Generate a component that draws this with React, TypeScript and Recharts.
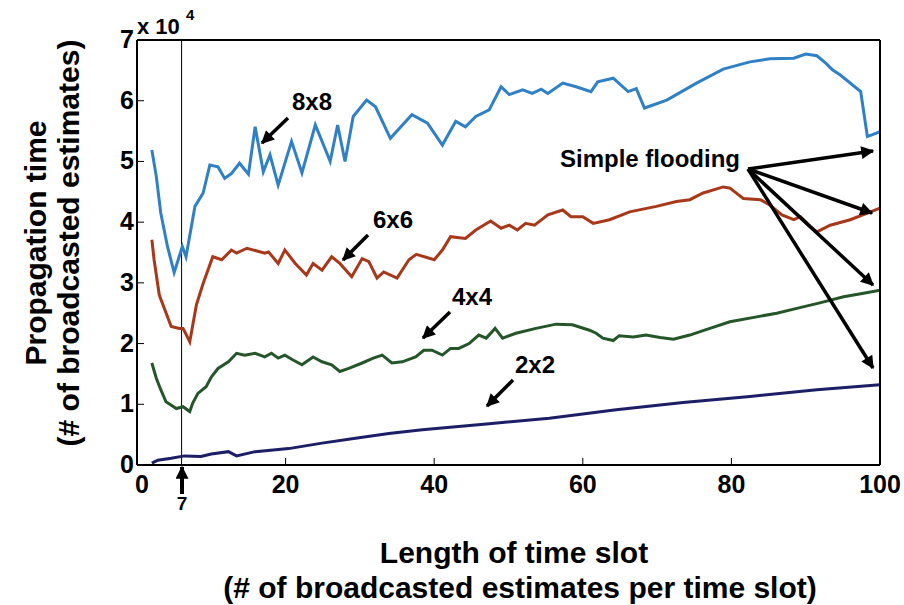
import { LineChart, Line, XAxis, YAxis, ReferenceLine } from "recharts";

const FONT = '"Liberation Sans", Arial, Helvetica, sans-serif';

// slot length (x) and propagation time in units of 1e4 (y)
const slots8 = [2, 2.6, 3.2, 4.1, 5.0, 5.6, 6.1, 6.6, 7.8, 8.9, 9.8, 10.9, 11.8, 12.7, 13.8, 15.0, 15.9, 17.0, 17.9, 19.0, 20.8, 22.2, 24.0, 26.0, 27.0, 28.0, 29.1, 30.9, 32.1, 34.1, 37.0, 39.1, 41.1, 42.9, 44.2, 45.6, 47.4, 49.0, 50.1, 51.9, 53.2, 54.4, 55.3, 57.3, 59.1, 61.1, 62.0, 64.1, 66.1, 67.2, 68.3, 71.3, 75.3, 78.9, 82.5, 85.2, 88.4, 90.0, 91.5, 92.7, 93.6, 94.7, 97.4, 98.3, 99.0, 100];
const time8 = [5.19, 4.75, 4.15, 3.6, 3.17, 3.4, 3.6, 3.43, 4.26, 4.48, 4.94, 4.91, 4.72, 4.8, 4.97, 4.79, 5.57, 4.83, 5.11, 4.61, 5.33, 4.81, 5.6, 5.0, 5.6, 5.0, 5.74, 6.01, 5.9, 5.38, 5.77, 5.63, 5.27, 5.66, 5.57, 5.74, 5.85, 6.23, 6.1, 6.18, 6.12, 6.19, 6.12, 6.29, 6.23, 6.15, 6.31, 6.37, 6.15, 6.2, 5.88, 6.01, 6.29, 6.52, 6.64, 6.69, 6.7, 6.77, 6.74, 6.62, 6.51, 6.42, 6.15, 5.41, 5.44, 5.49];

const slots6 = [2.0, 2.3, 3.0, 4.6, 5.7, 6.2, 7.1, 8.0, 8.9, 10.2, 11.4, 12.7, 13.4, 14.8, 17.2, 17.7, 19.0, 19.9, 21.3, 22.8, 23.7, 24.9, 26.2, 27.3, 28.9, 30.3, 31.2, 32.3, 33.2, 35.0, 36.6, 37.6, 40.0, 41.1, 42.2, 44.2, 45.6, 47.6, 49.0, 50.1, 51.2, 52.3, 53.5, 55.3, 57.3, 58.4, 60.0, 61.4, 63.6, 66.3, 69.9, 72.6, 74.4, 76.2, 78.9, 79.8, 81.6, 83.9, 85.2, 86.8, 88.4, 89.3, 90.6, 91.5, 93.3, 96.0, 98.3, 100];
const time6 = [3.71, 3.38, 2.8, 2.28, 2.25, 2.25, 2.03, 2.64, 2.99, 3.43, 3.38, 3.54, 3.49, 3.57, 3.49, 3.51, 3.32, 3.54, 3.32, 3.13, 3.32, 3.21, 3.43, 3.32, 3.1, 3.4, 3.35, 3.08, 3.18, 3.08, 3.38, 3.47, 3.38, 3.54, 3.76, 3.73, 3.87, 4.02, 3.9, 3.95, 3.87, 3.98, 3.95, 4.12, 4.2, 4.09, 4.09, 3.98, 4.04, 4.17, 4.26, 4.34, 4.37, 4.48, 4.58, 4.56, 4.39, 4.37, 4.28, 4.12, 4.04, 4.09, 3.93, 3.84, 3.95, 4.04, 4.15, 4.23];

const slots4 = [2.0, 2.6, 3.2, 3.9, 5.3, 6.2, 7.1, 7.5, 8.2, 9.3, 10.0, 10.9, 12.3, 13.4, 14.5, 15.9, 17.2, 18.1, 19.0, 19.9, 21.0, 22.2, 23.7, 24.9, 26.2, 27.3, 28.5, 30.3, 31.8, 33.0, 34.3, 35.7, 37.5, 38.6, 39.7, 41.1, 42.2, 43.3, 44.7, 46.0, 47.0, 48.2, 49.2, 51.0, 53.7, 56.4, 58.6, 60.9, 61.8, 62.7, 64.1, 64.9, 66.8, 68.5, 70.4, 72.2, 74.4, 77.1, 79.8, 83.4, 86.1, 88.8, 91.9, 95.1, 97.8, 100];
const time4 = [1.68, 1.43, 1.24, 1.04, 0.93, 0.96, 0.88, 1.02, 1.18, 1.29, 1.45, 1.59, 1.7, 1.84, 1.81, 1.84, 1.78, 1.84, 1.76, 1.81, 1.73, 1.65, 1.78, 1.7, 1.65, 1.54, 1.59, 1.68, 1.76, 1.81, 1.68, 1.7, 1.78, 1.89, 1.89, 1.81, 1.92, 1.92, 2.0, 2.14, 2.09, 2.25, 2.09, 2.17, 2.25, 2.32, 2.31, 2.22, 2.17, 2.09, 2.05, 2.13, 2.11, 2.14, 2.1, 2.07, 2.14, 2.25, 2.36, 2.44, 2.5, 2.58, 2.67, 2.77, 2.83, 2.88];

const slots2 = [2.0, 2.8, 4.6, 6.4, 8.6, 10.0, 12.3, 13.4, 15.9, 20.4, 24.9, 29.4, 33.9, 38.4, 42.9, 47.4, 55.5, 64.5, 73.5, 82.5, 91.5, 100];
const time2 = [0.03, 0.08, 0.11, 0.15, 0.14, 0.18, 0.22, 0.15, 0.22, 0.27, 0.36, 0.44, 0.52, 0.58, 0.63, 0.68, 0.77, 0.91, 1.03, 1.13, 1.24, 1.32];

const xTicks = [0, 20, 40, 60, 80, 100];
const yTicks = [0, 1, 2, 3, 4, 5, 6, 7];
const markedSlot = 6;

const zip = (xs: number[], ys: number[]) => xs.map((x, i) => ({ x, y: ys[i] }));

const series = [
  { name: "8x8", data: zip(slots8, time8), color: "#2f80c4" },
  { name: "6x6", data: zip(slots6, time6), color: "#a8381a" },
  { name: "4x4", data: zip(slots4, time4), color: "#25562a" },
  { name: "2x2", data: zip(slots2, time2), color: "#1c1f66" },
];

const label = { fontFamily: FONT, fontWeight: "bold" as const, fill: "#000" };

const BottomTick = ({ x, y, payload }: any) => {
  const v = payload.value;
  return (
    <g>
      {v > 0 && v < 100 && <line x1={x} x2={x} y1={y} y2={y - 7} stroke="#000" />}
      <text x={v === 0 ? x + 5 : x} y={y + 28} textAnchor="middle" fontSize={25} {...label}>
        {v}
      </text>
    </g>
  );
};

const TopTick = ({ x, y, payload }: any) => {
  const v = payload.value;
  if (v <= 0 || v >= 100) return <g />;
  return <line x1={x} x2={x} y1={y} y2={y + 7} stroke="#000" />;
};

const LeftTick = ({ x, y, payload }: any) => {
  const v = payload.value;
  return (
    <g>
      {v > 0 && v < 7 && <line x1={x} x2={x + 7} y1={y} y2={y} stroke="#000" />}
      <text x={x - 3} y={y + 8} textAnchor="end" fontSize={25} {...label}>
        {v}
      </text>
    </g>
  );
};

const RightTick = ({ x, y, payload }: any) => {
  const v = payload.value;
  if (v <= 0 || v >= 7) return <g />;
  return <line x1={x} x2={x - 7} y1={y} y2={y} stroke="#000" />;
};

// hand-placed annotation arrows (pixel space)
const Arrow = ({ x1, y1, x2, y2, w = 3.5 }: any) => (
  <line x1={x1} y1={y1} x2={x2} y2={y2} stroke="#000" strokeWidth={w} markerEnd="url(#head)" />
);

export default function App() {
  return (
    <div style={{ position: "absolute", left: 0, top: 0, width: 904, height: 605, background: "#fff" }}>
      <LineChart width={904} height={605} margin={{ top: 39, right: 23, bottom: 139, left: 136 }}>
        <XAxis
          type="number"
          dataKey="x"
          domain={[0, 100]}
          ticks={xTicks}
          height={1}
          tickSize={0}
          tickMargin={0}
          tick={<BottomTick />}
          axisLine={{ stroke: "#000", strokeWidth: 2 }}
          allowDataOverflow
        />
        <XAxis
          xAxisId="top"
          orientation="top"
          type="number"
          dataKey="x"
          domain={[0, 100]}
          ticks={xTicks}
          height={1}
          tickSize={0}
          tickMargin={0}
          tick={<TopTick />}
          axisLine={{ stroke: "#000", strokeWidth: 2 }}
        />
        <YAxis
          type="number"
          domain={[0, 7]}
          ticks={yTicks}
          width={1}
          tickSize={0}
          tickMargin={0}
          tick={<LeftTick />}
          axisLine={{ stroke: "#000", strokeWidth: 2 }}
          allowDataOverflow
        />
        <YAxis
          yAxisId="right"
          orientation="right"
          type="number"
          domain={[0, 7]}
          ticks={yTicks}
          width={1}
          tickSize={0}
          tickMargin={0}
          tick={<RightTick />}
          axisLine={{ stroke: "#000", strokeWidth: 2 }}
        />
        <ReferenceLine x={markedSlot} stroke="#000" strokeWidth={1} />
        {series.map((s) => (
          <Line
            key={s.name}
            data={s.data}
            dataKey="y"
            name={s.name}
            type="linear"
            stroke={s.color}
            strokeWidth={3}
            dot={false}
            isAnimationActive={false}
          />
        ))}
      </LineChart>

      <svg
        width={904}
        height={605}
        style={{ position: "absolute", left: 0, top: 0, pointerEvents: "none" }}
      >
        <defs>
          <marker id="head" viewBox="0 0 10 10" refX="9" refY="5" markerUnits="userSpaceOnUse" markerWidth="15" markerHeight="13" orient="auto">
            <path d="M0,0 L10,5 L0,10 z" fill="#000" />
          </marker>
        </defs>

        {/* exponent */}
        <text x={137} y={34} fontSize={22} {...label}>x 10</text>
        <text x={186} y={20} fontSize={15} {...label}>4</text>

        {/* marked slot */}
        <Arrow x1={182} y1={494} x2={182} y2={467} w={4} />
        <text x={182} y={510} textAnchor="middle" fontSize={19} {...label}>7</text>

        {/* series labels */}
        <text x={292} y={110} fontSize={24} {...label}>8x8</text>
        <Arrow x1={288} y1={118} x2={262} y2={143} />
        <text x={373} y={228} fontSize={24} {...label}>6x6</text>
        <Arrow x1={368} y1={235} x2={343} y2={260} />
        <text x={452} y={305} fontSize={24} {...label}>4x4</text>
        <Arrow x1={450} y1={312} x2={423} y2={338} />
        <text x={515} y={373} fontSize={24} {...label}>2x2</text>
        <Arrow x1={513} y1={380} x2={487} y2={406} />

        <text x={560} y={167} fontSize={24} {...label}>Simple flooding</text>
        <Arrow x1={748} y1={169} x2={873} y2={151} />
        <Arrow x1={748} y1={169} x2={872} y2={213} />
        <Arrow x1={748} y1={169} x2={873} y2={285} />
        <Arrow x1={748} y1={169} x2={873} y2={368} />

        {/* axis titles */}
        <g transform="translate(35,243) rotate(-90)">
          <text textAnchor="middle" dominantBaseline="central" fontSize={30} {...label}>Propagation time</text>
        </g>
        <g transform="translate(68,243) rotate(-90)">
          <text textAnchor="middle" dominantBaseline="central" fontSize={30} {...label}>(# of broadcasted estimates)</text>
        </g>
        <text x={514} y={563} textAnchor="middle" fontSize={30} {...label}>Length of time slot</text>
        <text x={520} y={598} textAnchor="middle" fontSize={30} {...label}>(# of broadcasted estimates per time slot)</text>
      </svg>
    </div>
  );
}
